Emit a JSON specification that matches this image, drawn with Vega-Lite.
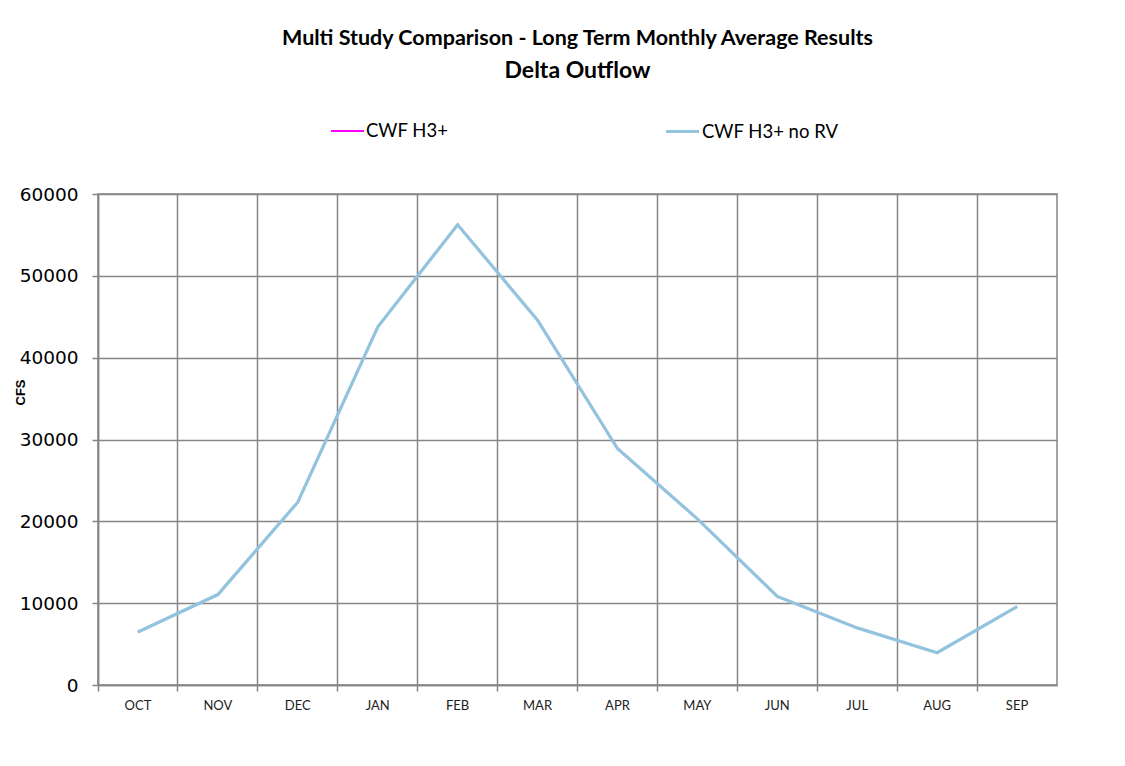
{
  "$schema": "https://vega.github.io/schema/vega-lite/v6.json",
  "width": 959,
  "height": 491,
  "autosize": {"type": "none"},
  "padding": {"left": 98, "top": 194, "right": 68, "bottom": 81},
  "background": "white",
  "title": {
    "text": "Multi Study Comparison - Long Term Monthly Average Results",
    "subtitle": "Delta Outflow",
    "anchor": "middle",
    "frame": "group",
    "font": "Lato",
    "fontSize": 21.5,
    "fontWeight": "bold",
    "color": "black",
    "subtitleFont": "Lato",
    "subtitleFontSize": 23,
    "subtitleFontWeight": "bold",
    "subtitleColor": "black",
    "subtitlePadding": 11,
    "offset": 30
  },
  "data": {
    "values": [
      {"month": "OCT", "series": "CWF H3+", "cfs": 6480},
      {"month": "NOV", "series": "CWF H3+", "cfs": 11050},
      {"month": "DEC", "series": "CWF H3+", "cfs": 22340},
      {"month": "JAN", "series": "CWF H3+", "cfs": 43750},
      {"month": "FEB", "series": "CWF H3+", "cfs": 56250},
      {"month": "MAR", "series": "CWF H3+", "cfs": 44580},
      {"month": "APR", "series": "CWF H3+", "cfs": 28900},
      {"month": "MAY", "series": "CWF H3+", "cfs": 20300},
      {"month": "JUN", "series": "CWF H3+", "cfs": 10830},
      {"month": "JUL", "series": "CWF H3+", "cfs": 6980},
      {"month": "AUG", "series": "CWF H3+", "cfs": 3950},
      {"month": "SEP", "series": "CWF H3+", "cfs": 9580},
      {"month": "OCT", "series": "CWF H3+ no RV", "cfs": 6480},
      {"month": "NOV", "series": "CWF H3+ no RV", "cfs": 11050},
      {"month": "DEC", "series": "CWF H3+ no RV", "cfs": 22340},
      {"month": "JAN", "series": "CWF H3+ no RV", "cfs": 43750},
      {"month": "FEB", "series": "CWF H3+ no RV", "cfs": 56250},
      {"month": "MAR", "series": "CWF H3+ no RV", "cfs": 44580},
      {"month": "APR", "series": "CWF H3+ no RV", "cfs": 28900},
      {"month": "MAY", "series": "CWF H3+ no RV", "cfs": 20300},
      {"month": "JUN", "series": "CWF H3+ no RV", "cfs": 10830},
      {"month": "JUL", "series": "CWF H3+ no RV", "cfs": 6980},
      {"month": "AUG", "series": "CWF H3+ no RV", "cfs": 3950},
      {"month": "SEP", "series": "CWF H3+ no RV", "cfs": 9580}
    ]
  },
  "mark": {"type": "line", "interpolate": "linear"},
  "encoding": {
    "x": {
      "field": "month",
      "type": "ordinal",
      "sort": ["OCT", "NOV", "DEC", "JAN", "FEB", "MAR", "APR", "MAY", "JUN", "JUL", "AUG", "SEP"],
      "scale": {"type": "band", "paddingInner": 0, "paddingOuter": 0},
      "axis": {
        "title": null,
        "labelAngle": 0,
        "labelFont": "Lato",
        "labelFontSize": 13,
        "labelColor": "#222222",
        "labelPadding": 8,
        "bandPosition": 0,
        "grid": true,
        "gridColor": "#868686",
        "gridWidth": 1.5,
        "ticks": true,
        "tickSize": 6,
        "tickColor": "#868686",
        "tickWidth": 1.5,
        "domainColor": "#868686",
        "domainWidth": 1.5
      }
    },
    "y": {
      "field": "cfs",
      "type": "quantitative",
      "scale": {"domain": [0, 60000], "nice": false},
      "axis": {
        "title": "CFS",
        "titleFont": "Liberation Sans",
        "titleFontSize": 13,
        "titleFontWeight": "bold",
        "titleColor": "black",
        "titleX": -78,
        "titleY": 198,
        "titleAlign": "center",
        "titleBaseline": "middle",
        "values": [0, 10000, 20000, 30000, 40000, 50000, 60000],
        "format": "d",
        "labelFont": "DejaVu Sans",
        "labelFontSize": 18.5,
        "labelColor": "black",
        "labelPadding": 14,
        "tickSize": 6,
        "tickColor": "#868686",
        "tickWidth": 1.5,
        "domainColor": "#868686",
        "domainWidth": 1.5,
        "gridColor": "#868686",
        "gridWidth": 1.5
      }
    },
    "strokeWidth": {
      "field": "series",
      "type": "nominal",
      "scale": {"domain": ["CWF H3+", "CWF H3+ no RV"], "range": [2, 3.2]},
      "legend": null
    },
    "color": {
      "field": "series",
      "type": "nominal",
      "scale": {"domain": ["CWF H3+", "CWF H3+ no RV"], "range": ["#FF00FF", "#93C4DE"]},
      "legend": {
        "title": null,
        "orient": "none",
        "legendX": 232,
        "legendY": -81,
        "direction": "horizontal",
        "symbolType": "stroke",
        "symbolSize": 1089,
        "symbolStrokeWidth": 3,
        "labelFont": "Lato",
        "labelFontSize": 18.5,
        "labelColor": "black",
        "labelOffset": 1,
        "columnPadding": 210
      }
    }
  },
  "config": {
    "view": {"stroke": "#868686", "strokeWidth": 1.5}
  }
}
